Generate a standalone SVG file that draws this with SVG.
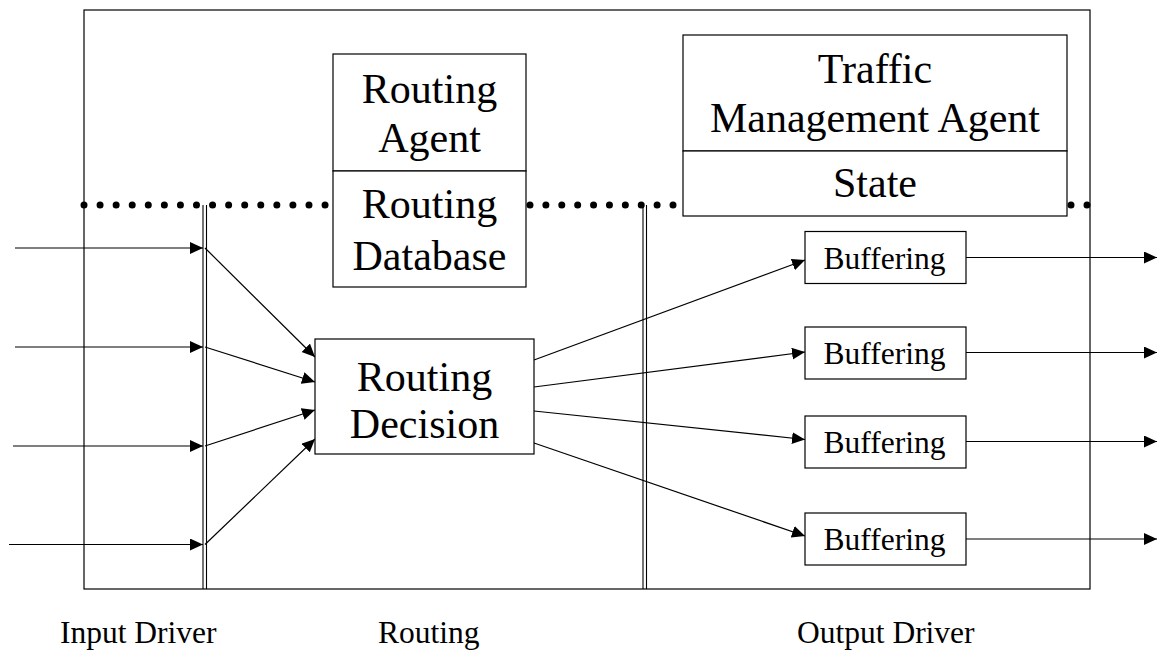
<svg xmlns="http://www.w3.org/2000/svg" width="1158" height="650" viewBox="0 0 1158 650">
<style>
  .box { fill: #ffffff; stroke: #000000; stroke-width: 1.2; }
  .frame { fill: none; stroke: #000000; stroke-width: 1.2; }
  .rail { stroke: #000000; stroke-width: 1.1; fill: none; }
  .dots { stroke: #000000; stroke-width: 7; stroke-linecap: round; fill: none; }
  .conn { stroke: #000000; stroke-width: 1.2; fill: none; marker-end: url(#arrow); }
  .big { font-family: "Liberation Serif", "Times New Roman", serif; font-size: 42px; fill: #000000; text-anchor: middle; }
  .small { font-family: "Liberation Serif", "Times New Roman", serif; font-size: 31.5px; fill: #000000; text-anchor: middle; }
  .label { font-family: "Liberation Serif", "Times New Roman", serif; font-size: 31.5px; fill: #000000; }
</style>
<defs>
  <marker id="arrow" markerUnits="userSpaceOnUse" markerWidth="14" markerHeight="13" refX="13" refY="6" orient="auto">
    <path d="M0,0 L13,6 L0,12 z" fill="#000000"/>
  </marker>
</defs>
<rect width="1158" height="650" fill="#ffffff"/>

<g id="frame">
  <rect class="frame" x="84" y="10" width="1006" height="579"/>
  <line class="dots" x1="84" y1="205" x2="326" y2="205" stroke-dasharray="0 16.07"/>
  <line class="dots" x1="530" y1="205" x2="674" y2="205" stroke-dasharray="0 15.89"/>
  <line class="dots" x1="1071" y1="205" x2="1088" y2="205" stroke-dasharray="0 16"/>
  <line class="rail" x1="203" y1="205" x2="203" y2="589"/>
  <line class="rail" x1="206.5" y1="205" x2="206.5" y2="589"/>
  <line class="rail" x1="643" y1="205" x2="643" y2="589"/>
  <line class="rail" x1="646.5" y1="205" x2="646.5" y2="589"/>
</g>

<g id="connectors">
  <line class="conn" x1="15" y1="248" x2="203" y2="248"/>
  <line class="conn" x1="15" y1="347" x2="203" y2="347"/>
  <line class="conn" x1="13" y1="446" x2="203" y2="446"/>
  <line class="conn" x1="9" y1="544.5" x2="203" y2="544.5"/>
  <line class="conn" x1="205" y1="248" x2="315" y2="357"/>
  <line class="conn" x1="205" y1="347" x2="315" y2="382"/>
  <line class="conn" x1="205" y1="446" x2="315" y2="410"/>
  <line class="conn" x1="205" y1="544.5" x2="315" y2="439"/>
  <line class="conn" x1="534" y1="360" x2="805" y2="260"/>
  <line class="conn" x1="534" y1="387" x2="805" y2="352"/>
  <line class="conn" x1="534" y1="411" x2="805" y2="439.5"/>
  <line class="conn" x1="534" y1="443" x2="805" y2="536"/>
  <line class="conn" x1="966" y1="257.5" x2="1157" y2="257.5"/>
  <line class="conn" x1="966" y1="352.5" x2="1157" y2="352.5"/>
  <line class="conn" x1="966" y1="441.5" x2="1157" y2="441.5"/>
  <line class="conn" x1="966" y1="539" x2="1157" y2="539"/>
</g>

<g id="routing-agent">
  <rect class="box" x="333" y="54" width="193" height="117"/>
  <text class="big" x="429.5" y="103">Routing</text>
  <text class="big" x="429.5" y="152">Agent</text>
</g>
<g id="routing-database">
  <rect class="box" x="333" y="171" width="193" height="116"/>
  <text class="big" x="429.5" y="217.5">Routing</text>
  <text class="big" x="429.5" y="270">Database</text>
</g>
<g id="traffic-management-agent">
  <rect class="box" x="683" y="35" width="384" height="116"/>
  <text class="big" x="875" y="83">Traffic</text>
  <text class="big" x="875" y="131.5">Management Agent</text>
</g>
<g id="state">
  <rect class="box" x="683" y="151" width="384" height="65"/>
  <text class="big" x="875" y="196.5">State</text>
</g>
<g id="routing-decision">
  <rect class="box" x="315" y="339" width="219" height="115"/>
  <text class="big" x="424.5" y="391">Routing</text>
  <text class="big" x="424.5" y="438">Decision</text>
</g>
<g id="buffering-1">
  <rect class="box" x="805" y="231.5" width="161" height="52"/>
  <text class="small" x="884.5" y="268.5">Buffering</text>
</g>
<g id="buffering-2">
  <rect class="box" x="805" y="327" width="161" height="52"/>
  <text class="small" x="884.5" y="363.5">Buffering</text>
</g>
<g id="buffering-3">
  <rect class="box" x="805" y="416" width="161" height="52"/>
  <text class="small" x="884.5" y="452.5">Buffering</text>
</g>
<g id="buffering-4">
  <rect class="box" x="805" y="513" width="161" height="52"/>
  <text class="small" x="884.5" y="549.5">Buffering</text>
</g>

<g id="labels">
  <text class="label" x="60" y="643">Input Driver</text>
  <text class="label" x="378" y="643">Routing</text>
  <text class="label" x="797" y="643">Output Driver</text>
</g>
</svg>
